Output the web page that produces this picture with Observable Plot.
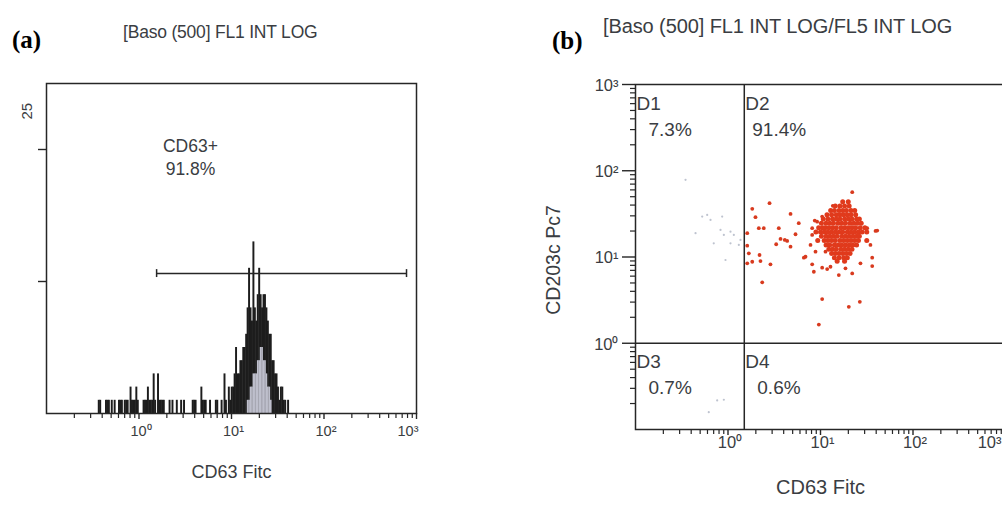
<!DOCTYPE html>
<html><head><meta charset="utf-8">
<script src="https://cdn.jsdelivr.net/npm/d3@7"></script>
<script src="https://cdn.jsdelivr.net/npm/@observablehq/plot@0.6"></script>
<style>
html,body{margin:0;padding:0;background:#fff;}
#root{position:relative;width:1002px;height:505px;overflow:hidden;background:#fff;font-family:"Liberation Sans",Arial,sans-serif;}
.pl{position:absolute;top:0;}
.t{position:absolute;white-space:nowrap;color:#3a3d42;transform:translate(0,-50%);}
.lab{position:absolute;white-space:nowrap;color:#000;font-family:"Liberation Serif","Times New Roman",serif;font-weight:bold;transform:translate(0,-50%);}
</style></head><body><div id="root"></div>
<script>
// ---------- Panel (a): FL1 histogram (channel, count); 64 channels per decade from 10^-1 ----------
const darkBins = [[36,1],[37,1],[41,1],[42,1],[43,1],[45,1],[47,1],[50,1],[51,1],[52,1],[54,1],[55,1],[56,1],
  [58,2],[59,1],[60,1],[61,1],[62,2],[63,1],[67,1],[68,1],[69,1],[70,2],[71,1],[72,1],[73,1],[74,3],[75,1],
  [77,3],[78,1],[79,1],[80,1],[81,1],[85,1],[87,1],[90,1],[93,1],[95,1],[101,1],[102,1],[103,1],
  [107,2],[108,1],[109,1],[110,1],[113,1],[117,1],[118,1],[121,1],[123,3],[124,1],
  [126,2],[127,1],[128,2],[129,2],[130,3],[131,5],[132,3],[133,3],[134,4],[135,4],[136,5],[137,5],[138,6],
  [139,8],[140,11],[141,8],[142,7],[143,13],[144,8],[145,7],[146,9],[147,11],[148,9],[149,8],[150,9],[151,9],
  [152,8],[153,7],[154,6],[155,6],[156,4],[157,4],[158,3],[159,3],[160,2],[161,1],[162,2],[163,2],[164,1],[165,1],[167,1]];
const lightBins = [[139,1],[140,1],[141,2],[142,2],[143,3],[144,3],[145,3],[146,4],[147,4],[148,5],[149,5],
  [150,4],[151,4],[152,3],[153,2],[154,2],[155,1]];
const gateA = {from: 1.55, to: 780, level: 10.6};
const annotA = [{x: 3.6, y: 19.5, text: "CD63+\n91.8%"}];
const yTicksA = [10, 20];
const yTopLabelA = [25];

// ---------- Panel (b): FL1 vs FL5 dot plot (values in decades, log10) ----------
const redCoreRows = [
 [1.64, [1.24, 1.30]],
 [1.59, [1.16, 1.21, 1.26, 1.31]],
 [1.54, [1.11, 1.15, 1.20, 1.24, 1.28, 1.33, 1.37]],
 [1.49, [1.07, 1.12, 1.17, 1.21, 1.25, 1.29, 1.33, 1.38]],
 [1.44, [1.03, 1.08, 1.13, 1.17, 1.21, 1.26, 1.30, 1.34, 1.39, 1.42]],
 [1.39, [1.01, 1.06, 1.10, 1.14, 1.19, 1.23, 1.27, 1.32, 1.36, 1.40, 1.44]],
 [1.34, [0.98, 1.02, 1.05, 1.09, 1.13, 1.17, 1.22, 1.26, 1.30, 1.34, 1.38, 1.43, 1.48]],
 [1.29, [0.95, 1.00, 1.04, 1.08, 1.12, 1.16, 1.20, 1.24, 1.29, 1.33, 1.37, 1.41, 1.45, 1.50]],
 [1.24, [1.01, 1.06, 1.10, 1.14, 1.18, 1.23, 1.27, 1.31, 1.35, 1.39, 1.42]],
 [1.19, [0.97, 1.04, 1.08, 1.12, 1.16, 1.21, 1.25, 1.29, 1.33, 1.37, 1.41, 1.50]],
 [1.14, [1.06, 1.10, 1.15, 1.19, 1.23, 1.27, 1.31, 1.35, 1.39]],
 [1.09, [1.09, 1.13, 1.17, 1.22, 1.26, 1.30, 1.34]],
 [1.04, [1.12, 1.16, 1.20, 1.24, 1.28, 1.32]],
 [0.99, [1.15, 1.20, 1.25, 1.29]],
 [0.95, [1.18, 1.26]]
];
const redScatter = [[1.343,1.752],[0.449,1.624],[1.133,1.593],[0.262,1.558],[0.676,1.50],[0.297,1.462],[0.938,1.422],
 [0.765,1.392],[0.333,1.334],[0.387,1.334],[0.549,1.334],[0.91,1.334],[0.208,1.276],[0.73,1.264],[1.595,1.302],
 [0.568,1.209],[0.614,1.198],[0.91,1.256],[0.892,1.14],[0.521,1.148],[0.676,1.12],[0.64,1.186],[0.208,1.131],
 [0.225,1.043],[0.946,1.062],[0.838,1.003],[0.341,1.023],[0.351,0.953],[0.262,0.945],[0.208,0.927],[0.459,0.915],
 [0.91,0.915],[1.018,0.876],[1.072,0.86],[0.928,0.829],[1.198,0.791],[1.27,0.869],[1.343,0.81],[1.559,0.992],
 [1.559,0.895],[1.432,0.927],[0.37,0.706],[1.018,0.512],[1.425,0.48],[1.306,0.422],[0.982,0.217],[0.82,0.992],
 [1.613,1.306],[0.964,1.41],[1.018,1.469],[1.54,1.14],[1.505,1.334],[1.054,1.062],[1.108,0.887]];
const grayScatter = [[-0.459,1.895],[-0.279,1.469],[-0.225,1.488],[-0.189,1.43],[-0.063,1.469],[-0.081,1.314],
 [0.027,1.294],[0.063,1.256],[-0.045,1.256],[-0.154,1.159],[0.027,1.159],[0.117,1.14],[-0.351,1.276],
 [-0.027,0.965],[0.135,1.198],[-0.117,-0.663],[-0.045,-0.655],[-0.208,-0.799]];
const gateB = {x: 1.5, y: 1};
const quadrants = [
 {name: "D1", pct: "7.3%", x: 0.1, y: 1000},
 {name: "D2", pct: "91.4%", x: 1.5, y: 1000},
 {name: "D3", pct: "0.7%", x: 0.1, y: 1},
 {name: "D4", pct: "0.6%", x: 1.5, y: 1}
];

// ---------- shared axis text ----------
const majorTicks = [1, 10, 100, 1000];
const decadeLabels = ["10⁰", "10¹", "10²", "10³"];
const titleA = "[Baso (500] FL1 INT LOG";
const titleB = "[Baso (500] FL1 INT LOG/FL5 INT LOG";
const xLabel = "CD63 Fitc";
const yLabelB = "CD203c Pc7";

const chanToValue = ch => 10 ** (-1 + ch / 64);
const minorTicks = d3.scaleLog().domain([0.1, 1000]).ticks().filter(t => !majorTicks.includes(t) && t > 0.1);
const lab = d => decadeLabels[majorTicks.indexOf(d)];
const redCore = redCoreRows.flatMap(([y, xs]) => xs.map(x => [x, y]));
const txt = "#3a3d42", ink = "#262626";
const font = "Liberation Sans, Arial, sans-serif";

const plotA = Plot.plot({
  width: 500, height: 505,
  marginLeft: 46, marginRight: 84, marginTop: 83, marginBottom: 92,
  x: {type: "log", domain: [0.1, 1000], axis: null},
  y: {domain: [0, 25], axis: null},
  style: {fontFamily: font, color: ink, background: "transparent"},
  marks: [
    Plot.rect(darkBins, {x1: d => chanToValue(d[0]), x2: d => chanToValue(d[0] + 1), y1: 0, y2: d => d[1], fill: "#1d1d1d", insetLeft: -0.25, insetRight: -0.25}),
    Plot.rect(lightBins, {x1: d => chanToValue(d[0]), x2: d => chanToValue(d[0] + 1), y1: 0, y2: d => d[1], fill: "#bebfcc", insetLeft: -0.1, insetRight: -0.1}),
    Plot.ruleY([gateA.level], {x1: gateA.from, x2: gateA.to, stroke: ink, strokeWidth: 1.5}),
    Plot.ruleX([gateA.from, gateA.to], {y1: gateA.level - 0.3, y2: gateA.level + 0.3, stroke: ink, strokeWidth: 1.5}),
    Plot.axisX({ticks: minorTicks, tickSize: 5, tickFormat: () => "", strokeWidth: 1.2, label: null}),
    Plot.axisX({ticks: majorTicks, tickSize: 6, tickFormat: () => "", strokeWidth: 1.4, label: null}),
    Plot.text(majorTicks.slice(0, 3), {x: d => d, frameAnchor: "bottom", lineAnchor: "top", dy: 12, dx: 2, text: lab, fontSize: 14.5, fill: txt}),
    Plot.text([1000], {x: d => d, frameAnchor: "bottom", lineAnchor: "top", textAnchor: "end", dy: 12, dx: 2, text: lab, fontSize: 14.5, fill: txt}),
    Plot.axisY({ticks: yTicksA, tickSize: 8, tickFormat: () => "", strokeWidth: 1.4, label: null}),
    Plot.text(yTopLabelA, {y: d => d, frameAnchor: "left", rotate: -90, dx: -19, dy: 36, text: d => String(d), fontSize: 15, fill: txt}),
    Plot.text(annotA, {x: "x", y: "y", text: "text", fontSize: 17.5, lineHeight: 1.35, fill: txt}),
    Plot.text([xLabel], {frameAnchor: "bottom", dy: 64, text: d => d, fontSize: 18, fill: txt}),
    Plot.frame({stroke: ink, strokeWidth: 1.5})
  ]
});

const plotB = Plot.plot({
  width: 500, height: 505,
  marginLeft: 115, marginRight: 15, marginTop: 84, marginBottom: 76,
  x: {type: "log", domain: [0.1, 1000], axis: null},
  y: {type: "log", domain: [0.1, 1000], axis: null},
  style: {fontFamily: font, color: ink, background: "transparent"},
  marks: [
    Plot.dot(grayScatter, {x: d => 10 ** d[0], y: d => 10 ** d[1], r: 1.1, fill: "#a3aabb", fillOpacity: 0.7}),
    Plot.dot(redScatter, {x: d => 10 ** d[0], y: d => 10 ** d[1], r: 1.9, fill: "#d83a1e"}),
    Plot.dot(redCore, {x: d => 10 ** d[0], y: d => 10 ** d[1], r: 2.5, fill: "#e03a1c"}),
    Plot.ruleX([gateB.x], {stroke: ink, strokeWidth: 1.5}),
    Plot.ruleY([gateB.y], {stroke: ink, strokeWidth: 1.5}),
    Plot.axisX({ticks: minorTicks, tickSize: 5, tickFormat: () => "", strokeWidth: 1.2, label: null}),
    Plot.axisX({ticks: majorTicks, tickSize: 6, tickFormat: () => "", strokeWidth: 1.4, label: null}),
    Plot.text(majorTicks.slice(0, 3), {x: d => d, frameAnchor: "bottom", lineAnchor: "top", dy: 7, dx: 2, text: lab, fontSize: 16.5, fill: txt}),
    Plot.text([1000], {x: d => d, frameAnchor: "bottom", lineAnchor: "top", textAnchor: "end", dy: 7, dx: -4, text: lab, fontSize: 16.5, fill: txt}),
    Plot.axisY({ticks: minorTicks, tickSize: 5, tickFormat: () => "", strokeWidth: 1.2, label: null}),
    Plot.axisY({ticks: majorTicks, tickSize: 13, tickFormat: () => "", strokeWidth: 1.4, label: null}),
    Plot.text(majorTicks, {y: d => d, frameAnchor: "left", textAnchor: "end", dx: -17, dy: 1, text: lab, fontSize: 16.5, fill: txt}),
    Plot.text(quadrants, {x: "x", y: "y", text: "name", textAnchor: "start", dx: 1, dy: 19, fontSize: 19, fill: txt}),
    Plot.text(quadrants.filter(q => q.name !== "D2"), {x: "x", y: "y", text: "pct", textAnchor: "start", dx: 13, dy: 45, fontSize: 19, fill: txt}),
    Plot.text(quadrants.filter(q => q.name === "D2"), {x: "x", y: "y", text: "pct", textAnchor: "start", dx: 8, dy: 45, fontSize: 19, fill: txt}),
    Plot.text([yLabelB], {frameAnchor: "left", textAnchor: "middle", rotate: -90, dx: -82, dy: 3, text: d => d, fontSize: 19.5, fill: txt}),
    Plot.text([xLabel], {frameAnchor: "bottom", dy: 64, text: d => d, fontSize: 20, fill: txt}),
    Plot.frame({stroke: ink, strokeWidth: 1.5})
  ]
});

const root = document.getElementById("root");
plotA.classList.add("pl"); plotA.style.left = "0px";
plotB.classList.add("pl"); plotB.style.left = "520px";
root.appendChild(plotA); root.appendChild(plotB);

function addText(cls, text, left, top, size, extra) {
  const el = document.createElement("div");
  el.className = cls; el.textContent = text;
  el.style.left = left + "px"; el.style.top = top + "px"; el.style.fontSize = size + "px";
  if (extra) Object.assign(el.style, extra);
  root.appendChild(el);
}
addText("lab", "(a)", 12, 40, 25);
addText("t", titleA, 123, 32, 17.5, {letterSpacing: "-0.2px"});
addText("lab", "(b)", 552, 41, 25);
addText("t", titleB, 603, 26, 20, {letterSpacing: "-0.1px"});
</script></body></html>
